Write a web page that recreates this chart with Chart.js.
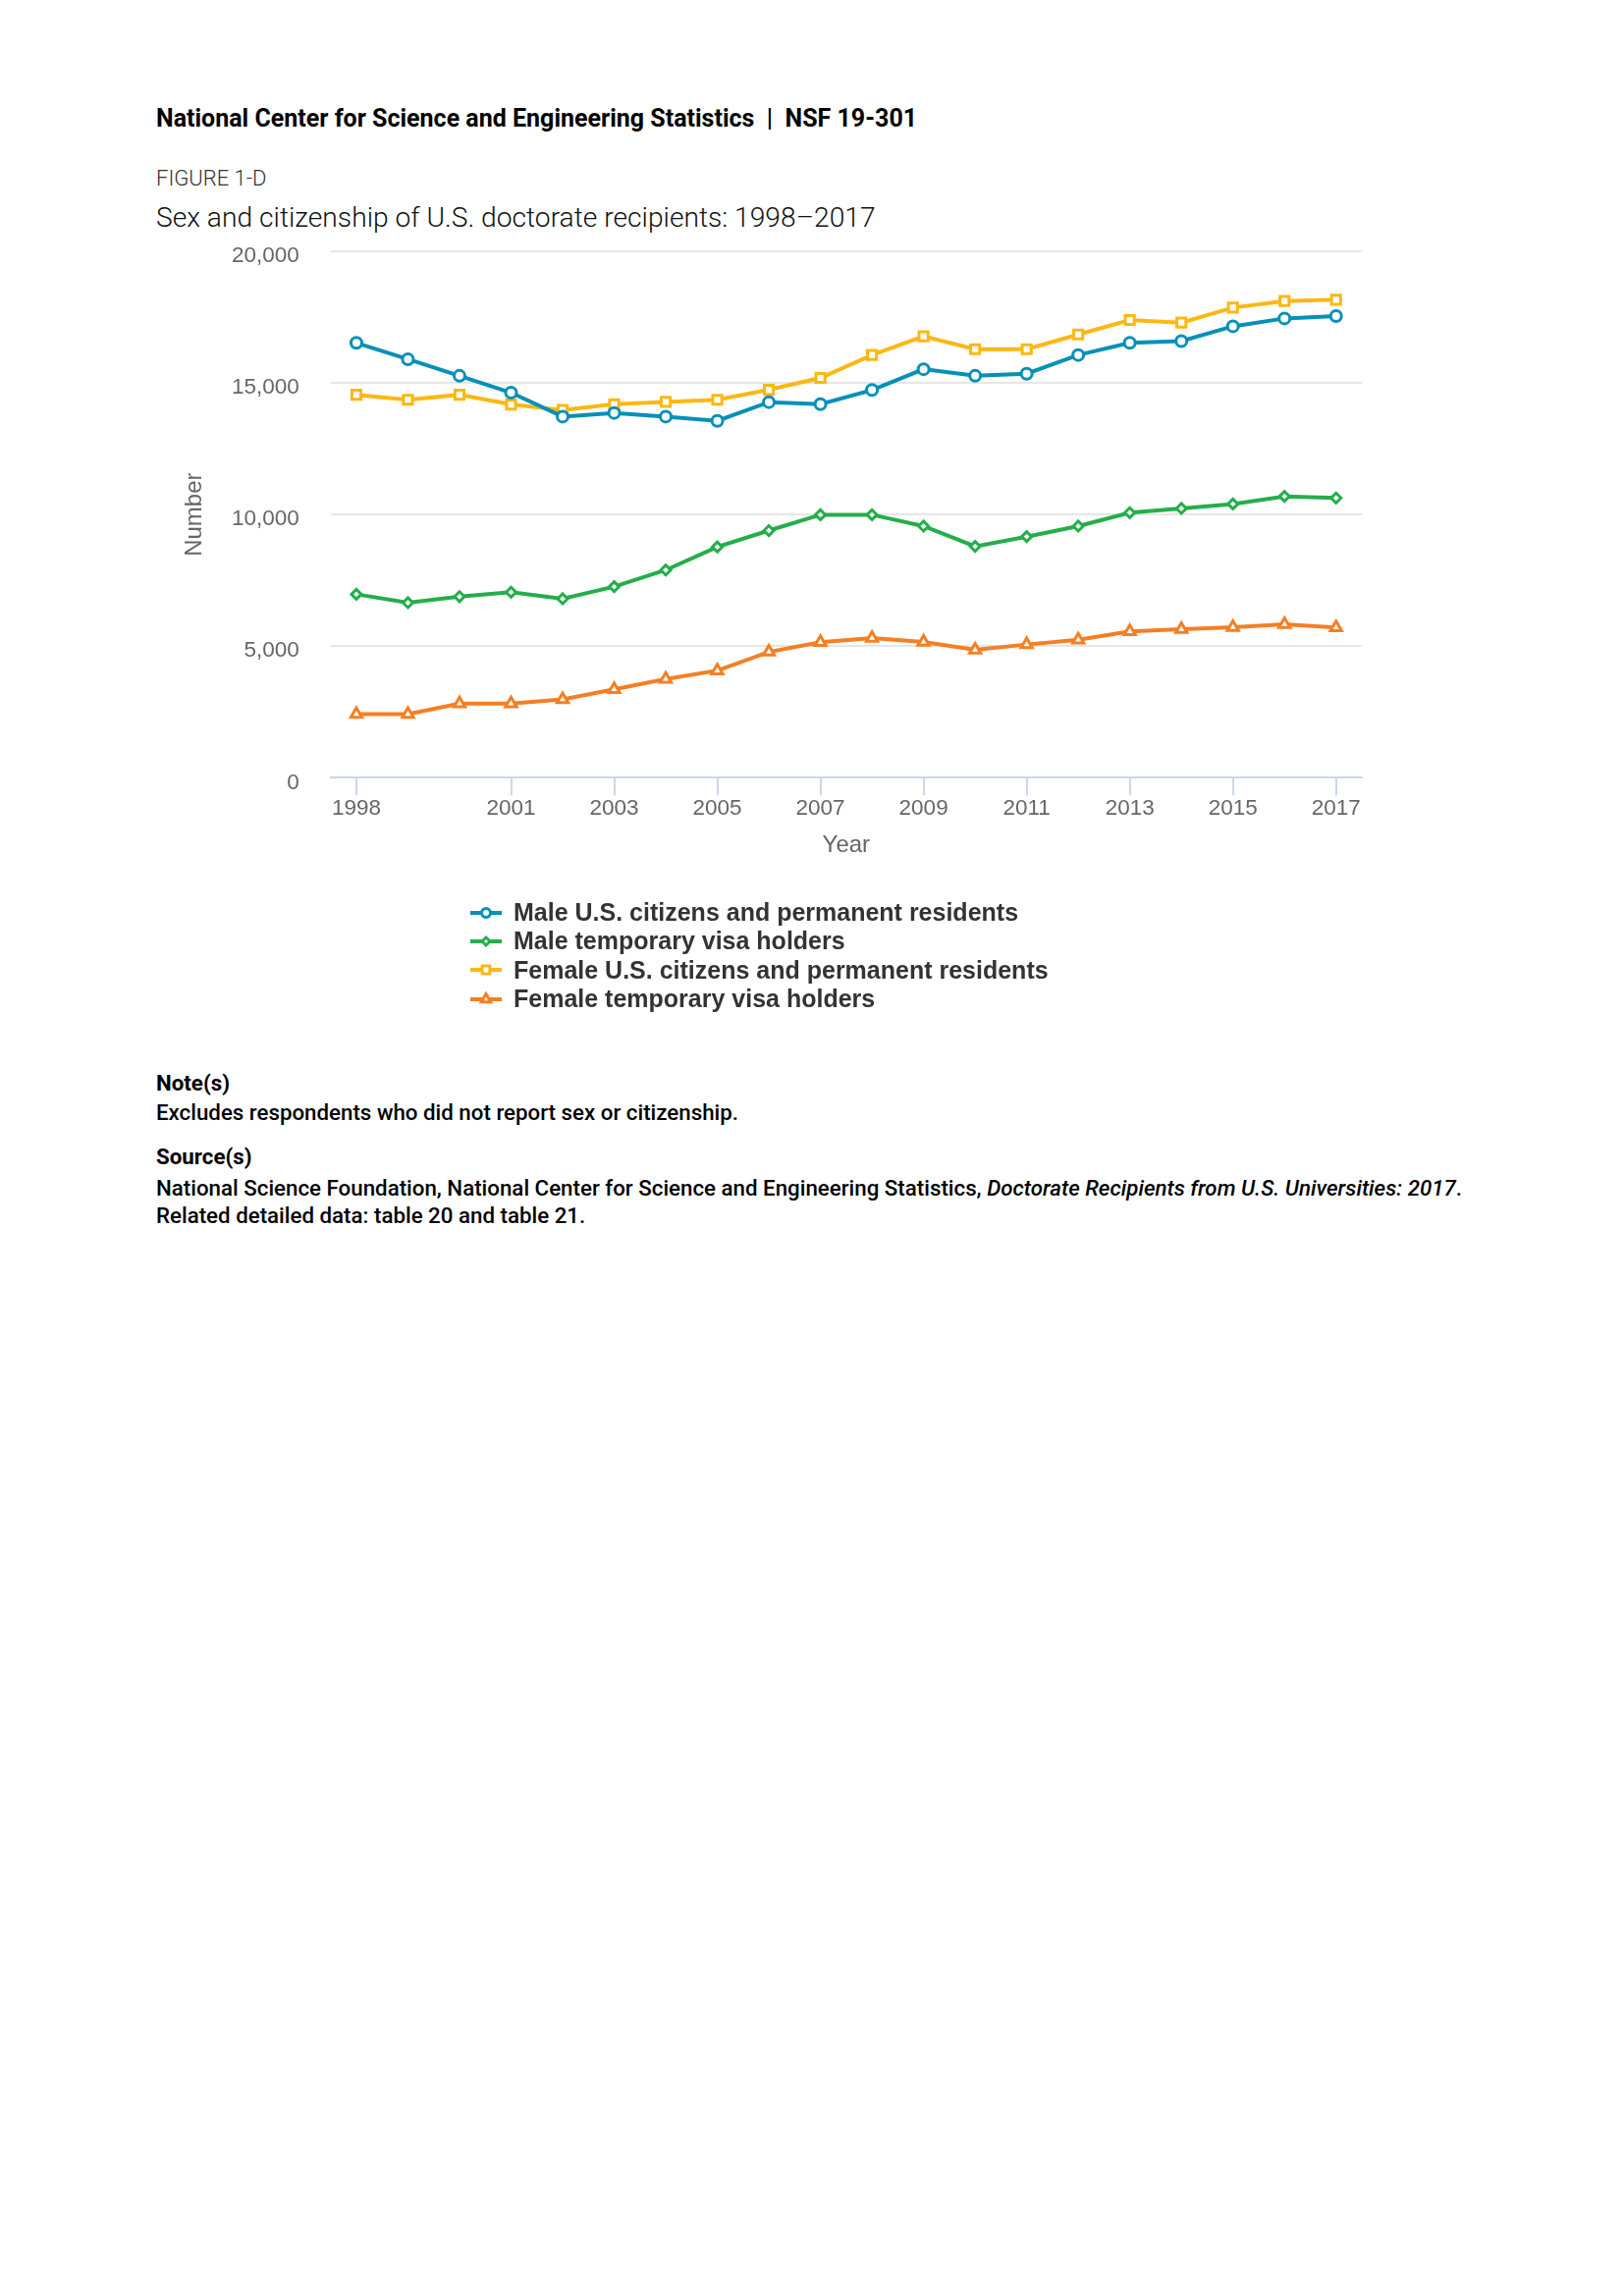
<!DOCTYPE html>
<html>
<head>
<meta charset="utf-8">
<script src="https://cdn.jsdelivr.net/npm/chart.js@4/dist/chart.umd.min.js"></script>
<style>
  html, body { margin: 0; padding: 0; background: #fff; }
  body { width: 1654px; height: 2339px; position: relative; font-family: Roboto, sans-serif; color: #000; }
  .txt { position: absolute; left: 159px; white-space: nowrap; line-height: 1; }
  #header { top: 107.5px; font-size: 25px; font-weight: bold; }
  #figno { top: 171px; font-size: 22px; font-weight: 300; color: #333; }
  #title { top: 208px; font-size: 28.2px; font-weight: 300; color: #111; }
  .note-h { font-size: 22.3px; font-weight: bold; }
  .note-t { font-size: 22.3px; font-weight: 500; }
  #chartBox { position: absolute; left: 0; top: 230px; width: 1654px; height: 650px; }
  #legend { position: absolute; left: 478px; top: 915px; font-family: "Liberation Sans", Arial, sans-serif;
            font-weight: bold; font-size: 25px; color: #333; }
  #legend .row { height: 29.3px; display: flex; align-items: center; }
  #legend canvas { margin-right: 11px; }
</style>
</head>
<body>
<div class="txt" id="header">National Center for Science and Engineering Statistics&nbsp;&nbsp;|&nbsp;&nbsp;NSF 19-301</div>
<div class="txt" id="figno">FIGURE 1-D</div>
<div class="txt" id="title">Sex and citizenship of U.S. doctorate recipients: 1998–2017</div>

<div id="chartBox"><canvas id="chart"></canvas></div>
<div id="legend"></div>

<div class="txt note-h" style="top:1091.5px">Note(s)</div>
<div class="txt note-t" style="top:1121.5px">Excludes respondents who did not report sex or citizenship.</div>
<div class="txt note-h" style="top:1166.5px">Source(s)</div>
<div class="txt note-t" style="top:1198.5px">National Science Foundation, National Center for Science and Engineering Statistics, <i>Doctorate Recipients from U.S. Universities: 2017</i>.</div>
<div class="txt note-t" style="top:1226.5px">Related detailed data: table 20 and table 21.</div>

<script>
// Data
const years = ['1998', '1999', '2000', '2001', '2002', '2003', '2004', '2005', '2006', '2007',
               '2008', '2009', '2010', '2011', '2012', '2013', '2014', '2015', '2016', '2017'];
const labeledYears = ['1998', '2001', '2003', '2005', '2007', '2009', '2011', '2013', '2015', '2017'];

const maleUS = [16520, 15900, 15270, 14630, 13720, 13860, 13720, 13560, 14270, 14190,
                14730, 15520, 15270, 15350, 16060, 16520, 16590, 17150, 17450, 17540];
const maleTemp = [6970, 6650, 6880, 7050, 6800, 7260, 7890, 8770, 9390, 9990,
                  9990, 9560, 8790, 9160, 9560, 10070, 10230, 10400, 10690, 10630];
const femaleUS = [14550, 14360, 14550, 14180, 13970, 14190, 14280, 14360, 14740, 15190,
                  16060, 16770, 16280, 16280, 16840, 17390, 17290, 17860, 18110, 18160];
const femaleTemp = [2420, 2420, 2820, 2820, 2980, 3360, 3750, 4070, 4780, 5150,
                    5310, 5160, 4860, 5060, 5240, 5560, 5640, 5720, 5830, 5710];

const yTicks = [0, 5000, 10000, 15000, 20000];

const axisFont = { family: '"Liberation Sans", Arial, sans-serif', size: 22.5 };
const titleFont = { family: '"Liberation Sans", Arial, sans-serif', size: 24 };

function series(label, data, color, pointStyle, radius) {
    return {
        label: label,
        data: data,
        borderColor: color,
        backgroundColor: color,
        borderWidth: 4,
        tension: 0,
        pointStyle: pointStyle,
        pointRadius: radius,
        pointHoverRadius: radius,
        pointBackgroundColor: '#fff',
        pointBorderColor: color,
        pointBorderWidth: 3
    };
}

const datasets = [
    series('Male U.S. citizens and permanent residents', maleUS, '#0590b8', 'circle', 5.5),
    series('Male temporary visa holders', maleTemp, '#24ae4b', 'rectRot', 5),
    series('Female U.S. citizens and permanent residents', femaleUS, '#fdb714', 'rect', 6.5),
    series('Female temporary visa holders', femaleTemp, '#f47f24', 'triangle', 6.5)
];

const chart = new Chart(document.getElementById('chart'), {
    type: 'line',
    data: { labels: years, datasets: datasets },
    options: {
        responsive: true,
        maintainAspectRatio: false,
        animation: false,
        layout: { padding: { left: 180, right: 267, top: 26, bottom: 0 } },
        plugins: {
            legend: { display: false },
            tooltip: { enabled: false }
        },
        scales: {
            x: {
                type: 'category',
                offset: true,
                afterFit: (scale) => { scale.height = 87.7; },
                border: { display: true, color: '#ccd6eb', width: 2 },
                grid: {
                    offset: false,
                    drawOnChartArea: false,
                    drawTicks: true,
                    tickLength: 18,
                    color: '#ccd6eb',
                    lineWidth: 2
                },
                ticks: {
                    autoSkip: false,
                    maxRotation: 0,
                    padding: 0,
                    color: '#666666',
                    font: axisFont,
                    callback: function(value, index) {
                        const y = years[index];
                        return labeledYears.includes(y) ? y : null;
                    }
                },
                title: {
                    display: true,
                    text: 'Year',
                    color: '#666666',
                    font: titleFont,
                    padding: { top: 0, bottom: 4 }
                }
            },
            y: {
                min: 0,
                max: 20000,
                afterFit: (scale) => {
                    scale.width = 156.7;
                    // tick padding is only meant as horizontal gap here
                    scale.paddingTop = 0;
                    scale.paddingBottom = 0;
                },
                afterBuildTicks: (scale) => { scale.ticks = yTicks.map(v => ({ value: v })); },
                border: { display: false },
                grid: {
                    drawTicks: false,
                    lineWidth: 2,
                    color: (ctx) => ctx.tick && ctx.tick.value === 0 ? 'rgba(0,0,0,0)' : '#e6e6e6'
                },
                ticks: {
                    padding: 32,
                    labelOffset: 5,
                    color: '#666666',
                    font: axisFont,
                    callback: (v) => v.toLocaleString('en-US')
                },
                title: {
                    display: true,
                    text: 'Number',
                    color: '#666666',
                    font: titleFont,
                    padding: { top: 4, bottom: 0 }
                }
            }
        }
    }
});

// HTML legend: one row per series, line with marker
const legend = document.getElementById('legend');
datasets.forEach(ds => {
    const row = document.createElement('div');
    row.className = 'row';
    const c = document.createElement('canvas');
    c.width = 34; c.height = 20;
    const ctx = c.getContext('2d');
    ctx.strokeStyle = ds.borderColor;
    ctx.lineWidth = 4;
    ctx.beginPath();
    ctx.moveTo(1, 10);
    ctx.lineTo(33, 10);
    ctx.stroke();
    ctx.fillStyle = '#fff';
    ctx.strokeStyle = ds.borderColor;
    ctx.lineWidth = 3;
    Chart.helpers.drawPoint(ctx, {
        pointStyle: ds.pointStyle, radius: ds.pointRadius - 1, borderWidth: 3, rotation: 0
    }, 17, 10);
    row.appendChild(c);
    const span = document.createElement('span');
    span.textContent = ds.label;
    row.appendChild(span);
    legend.appendChild(row);
});
</script>
</body>
</html>
